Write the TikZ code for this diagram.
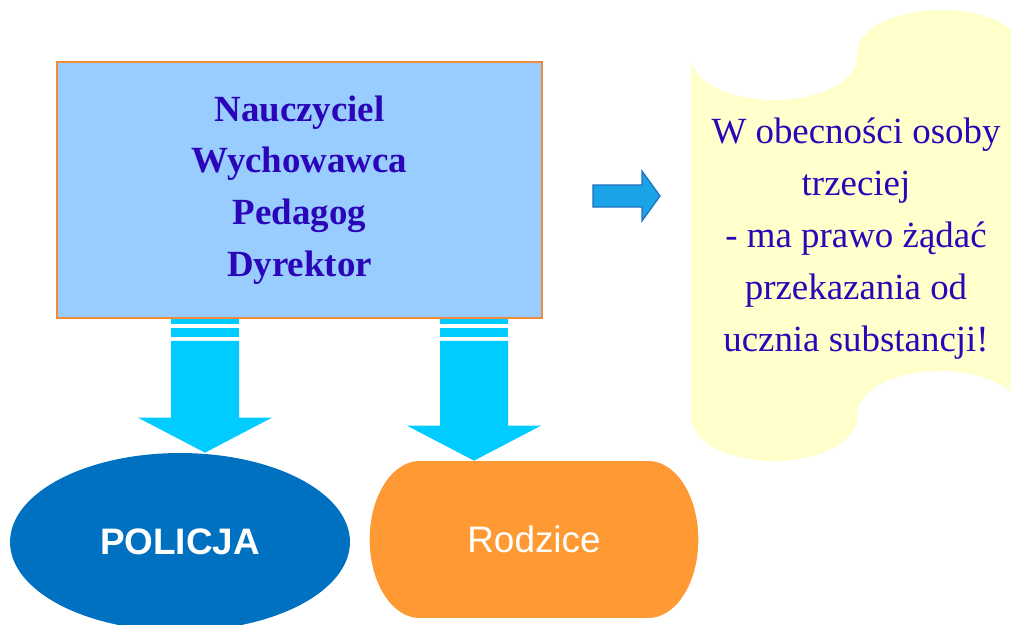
\documentclass[tikz,border=0pt]{standalone}
\usepackage{fontspec}
\setmainfont{Liberation Serif}
\setsansfont{Liberation Sans}
\usetikzlibrary{shapes.geometric}
\usetikzlibrary{calc}
\usetikzlibrary{backgrounds}

\definecolor{boxblue}{HTML}{99CCFF}
\definecolor{boxline}{HTML}{F28A3C}
\definecolor{textblue}{HTML}{2A06B8}
\definecolor{arrowcyan}{HTML}{00CCFF}
\definecolor{pointerblue}{HTML}{1AA3E6}
\definecolor{pointerline}{HTML}{1F6FC0}
\definecolor{policeblue}{HTML}{0070C0}
\definecolor{parentorange}{HTML}{FF9933}
\definecolor{scrollyellow}{HTML}{FFFFCC}

\newcommand{\bigfont}{\fontsize{21}{29.5}\selectfont}

\newcommand{\stripedarrow}[2]{%
  \fill[arrowcyan] ($(#1)+(-34,0)$) rectangle ($(#1)+(34,5)$);
  \fill[arrowcyan] ($(#1)+(-34,9)$) rectangle ($(#1)+(34,18)$);
  \fill[arrowcyan] ($(#1)+(-34,22)$) -- ($(#2)+(-34,-35)$) -- ($(#2)+(-67,-35)$) -- (#2)
    -- ($(#2)+(67,-35)$) -- ($(#2)+(34,-35)$) -- ($(#1)+(34,22)$) -- cycle;
}

\begin{document}
\begin{tikzpicture}[x=0.02cm, y=-0.02cm]
  \useasboundingbox (0,0) rectangle (1011,625);
  \clip (0,0) rectangle (1011,625);

  \node (teacher) [draw=boxline, line width=1.1pt, fill=boxblue, minimum width=9.7cm, minimum height=5.12cm,
    align=center, text=textblue, font=\bigfont\bfseries] at (299.5,190) {Nauczyciel\\Wychowawca\\Pedagog\\Dyrektor};

  \node (policja) [ellipse, fill=policeblue, minimum width=6.8cm, minimum height=3.56cm, inner sep=0pt,
    text=white, font=\bigfont\sffamily\bfseries] at (180,542) {POLICJA};

  \node (rodzice) [fill=parentorange, minimum width=4.56cm, minimum height=3.14cm, inner sep=0pt,
    text=white, font=\bigfont\sffamily] at (534,539.5) {Rodzice};
  \begin{scope}[on background layer]
    \fill[parentorange] (rodzice.west) ellipse [x radius=50, y radius=78.5];
    \fill[parentorange] (rodzice.east) ellipse [x radius=50, y radius=78.5];
  \end{scope}

  \coordinate (s1) at (205,0 |- teacher.south);
  \coordinate (t1) at (205,0 |- policja.north);
  \coordinate (s2) at (474,0 |- teacher.south);
  \coordinate (t2) at (474,0 |- rodzice.north);
  \stripedarrow{s1}{t1}
  \stripedarrow{s2}{t2}

  \coordinate (ptr) at (593,196);
  \draw[fill=pointerblue, draw=pointerline, line width=0.7pt, line join=miter]
    ($(ptr)+(0,-11)$) -- ++(49,0) -- ++(0,-14) -- ++(18,25) -- ++(-18,25) -- ++(0,-14) -- ++(-49,0) -- cycle;

  \fill[scrollyellow] (691,57) rectangle (1030,417);
  \fill[white] (774,57) ellipse [x radius=83, y radius=43];
  \fill[scrollyellow] (941,53) ellipse [x radius=84, y radius=43];
  \fill[scrollyellow] (774,417) ellipse [x radius=83, y radius=44];
  \fill[white] (940,415) ellipse [x radius=83, y radius=44];

  \node (note) [align=center, text=textblue, font=\bigfont] at (856,238.5)
    {W obecności osoby\\trzeciej\\- ma prawo żądać\\przekazania od\\ucznia substancji!};
\end{tikzpicture}
\end{document}
